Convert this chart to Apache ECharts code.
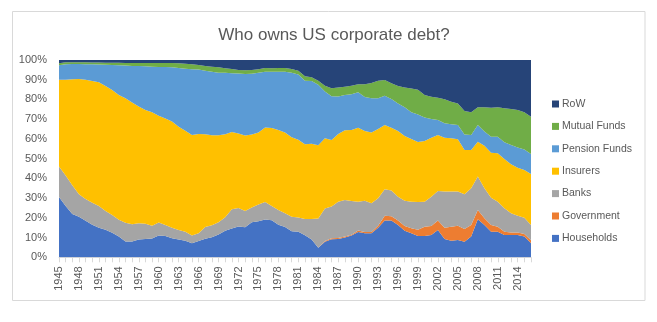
<!DOCTYPE html>
<html>
<head>
<meta charset="utf-8">
<script src="https://cdn.jsdelivr.net/npm/echarts@6/dist/echarts.min.js"></script>
<style>
html,body{margin:0;padding:0;background:#fff;}
#chart{width:657px;height:322px;}
</style>
</head>
<body>
<div id="chart"></div>
<script>
var years = [];
for (var y = 1945; y <= 2016; y++) years.push(String(y));

var households = [30.5,26,22,20.5,18.5,16.5,15,14,12.5,10.5,8,8,9,9.3,9.5,11,10.8,9.6,9,8.4,7.1,8.2,9.4,10.2,11.5,13.5,14.6,15.6,15.2,17.8,18.3,19.2,18.8,16.5,15.3,13.2,13,11.2,9,4.8,7.9,9.1,9.3,10,11,12.8,12.2,12.2,15,18.6,18.6,16.4,13.5,12.2,10.8,10.8,11.3,13.9,9.3,8.4,8.8,7.9,10.5,19.3,16.4,13,13,11.3,11.3,11.3,10.5,7.1];
var government = [0,0,0,0,0,0,0,0,0,0,0,0,0,0,0,0,0,0,0,0,0,0,0,0,0,0,0,0,0,0,0,0,0,0,0,0,0,0,0,0,0.4,0.5,0.5,0.5,0.4,0.8,0.6,0.6,1,2.4,2.2,2.2,2.4,2.5,3.2,4.7,4.6,4.7,5.7,7.1,7.2,6.5,5.9,4.7,3.4,3.4,2.5,1.7,1.3,1.3,1.3,1.5];
var banks = [15.5,15.5,14.5,11.5,11.1,11.2,11,9.5,9,8.5,9.5,8.7,8.2,7.7,6.5,6.6,5.6,5.4,4.8,4.6,3.9,4,5.9,6.1,6.3,6.8,9.8,9.4,8.3,7.5,8.5,8.8,7.2,7.5,7,7.4,7.2,8.2,10.4,14.9,16.4,16.1,18.4,18.5,17.1,14.6,15.9,14.6,13.9,13.5,13,12.1,12.8,13.5,14,12.7,14.8,15,18.3,17.8,17.3,17.5,18.6,16.9,15.2,13.8,12.7,11.8,9.7,8.5,8.3,7.8];
var insurers = [44,48.5,53.7,58.4,60.4,61.7,62.7,63.3,63.3,63.3,63.1,61.7,59.2,57.7,57.5,54.2,54,53.8,52.4,51.2,51,50.3,47.1,45.5,44.1,42.1,39.1,37.8,38.2,37,36.4,37.8,39.5,40.5,40.9,40.2,39.4,37.9,38.2,37.1,35.6,33.8,34.3,35.4,36,37.5,35.3,35.9,35.1,32.5,31.9,33.3,32.8,31.8,30.5,30.8,29.9,28.4,27.3,27,26.5,22.5,19.4,17.7,21.6,22.8,24.5,25,24.8,24.3,24.2,25.8];
var pension = [7.3,7.8,7.8,7.6,7.9,8.4,9,10.8,12.7,15.1,16.6,18.6,20.5,22.1,23.1,24.7,26,27.5,29.8,31.4,33.3,32.7,32.2,32.2,31.7,31.1,29.8,30.4,31.2,30.7,30.3,28.2,28.6,29.6,30.8,32.8,33.1,32.2,31.7,30.7,23.7,22.1,19,17.9,18.1,17.9,17.2,17.3,15.6,14.9,14.5,14,14.5,13.5,13.9,11.8,9.5,7.6,7.3,7.1,7.3,7.9,7.6,8.5,7.1,8.1,8.4,8.5,9.8,10.3,10.4,10.2];
var mutualFunds = [1,1,0.8,0.8,0.9,0.9,1,1,1.1,1.2,1.3,1.5,1.6,1.7,1.9,2,2.1,2.2,2.4,2.5,2.5,2.3,2.4,2.6,2.7,2.3,2.2,1.7,1.9,1.9,1.8,2,1.7,1.9,2,1.8,1.8,2.3,1.9,2,3,4.1,4.5,4.2,4.4,4.1,6.5,7.8,8.9,8,8,8.8,10.1,12.1,12.5,11.5,11.3,11.3,12.2,11.5,10.9,11.9,11.5,8.9,12.3,14.7,14.9,17.2,18.3,19,18.8,18.9];
var row = [1.7,1.2,1.2,1.2,1.2,1.3,1.3,1.4,1.4,1.4,1.5,1.5,1.5,1.5,1.5,1.5,1.5,1.5,1.6,1.9,2.2,2.5,3,3.4,3.7,4.2,4.5,5.1,5.2,5.1,4.7,4,4.2,4,4,4.6,5.5,8.2,8.8,10.5,13,14.3,14,13.5,13,12.3,12.3,11.6,10.5,10.1,11.8,13.2,13.9,14.4,15.1,17.7,18.6,19.1,19.9,21.1,22,25.8,26.5,24,24,24.2,24,24.5,24.8,25.3,26.5,28.7];

var seriesNames = ['Households','Government','Banks','Insurers','Pension Funds','Mutual Funds','RoW'];
var seriesData = [households, government, banks, insurers, pension, mutualFunds, row];
var colors = ['#4472C4','#ED7D31','#A5A5A5','#FFC000','#5B9BD5','#70AD47','#264478'];
var yTicks = [0,10,20,30,40,50,60,70,80,90,100];

var FONT = 'Liberation Sans, Arial, sans-serif';
var chart = echarts.init(document.getElementById('chart'), null, {renderer:'canvas'});

var series = seriesNames.map(function(n, i){
  return {
    name: n,
    type: 'line',
    stack: 'total',
    data: seriesData[i],
    symbol: 'none',
    lineStyle: {width: 0},
    areaStyle: {color: colors[i], opacity: 1},
    itemStyle: {color: colors[i]},
    emphasis: {disabled: true},
    animation: false
  };
});

chart.setOption({
  animation: false,
  backgroundColor: '#ffffff',
  color: colors,
  title: {
    text: 'Who owns US corporate debt?',
    left: 329, top: 22, textAlign: 'center',
    textStyle: {fontFamily: FONT, fontSize: 17, fontWeight: 'normal', color: '#595959'}
  },
  legend: {
    orient: 'vertical',
    left: 552, top: 98, padding: 0,
    itemWidth: 7, itemHeight: 7, itemGap: 10.4,
    icon: 'rect',
    data: seriesNames.slice().reverse(),
    textStyle: {fontFamily: FONT, fontSize: 10.5, color: '#595959', lineHeight: 12, padding: [0,0,0,-2]}
  },
  grid: {left: 59, right: 126, top: 60, bottom: 64.7},
  xAxis: {
    type: 'category',
    data: years,
    boundaryGap: false,
    axisLine: {lineStyle: {color: '#D9D9D9'}},
    axisTick: {show: true, interval: 0, alignWithLabel: true, length: 5, lineStyle: {color: '#D9D9D9'}},
    axisLabel: {interval: 2, rotate: 90, margin: 9, fontFamily: FONT, fontSize: 11, color: '#595959'},
    splitLine: {show: false}
  },
  yAxis: {
    type: 'value',
    min: 0, max: 100, interval: 10,
    axisLine: {show: false},
    axisTick: {show: false},
    splitLine: {show: false},
    axisLabel: {formatter: function(v){ return yTicks.indexOf(v) >= 0 ? v + '%' : ''; }, margin: 12, fontFamily: FONT, fontSize: 11, color: '#595959'}
  },
  graphic: [{
    type: 'rect',
    shape: {x: 12.5, y: 11.5, width: 632.5, height: 289},
    style: {fill: 'none', stroke: '#D9D9D9', lineWidth: 1},
    silent: true
  }],
  series: series
});
</script>
</body>
</html>
